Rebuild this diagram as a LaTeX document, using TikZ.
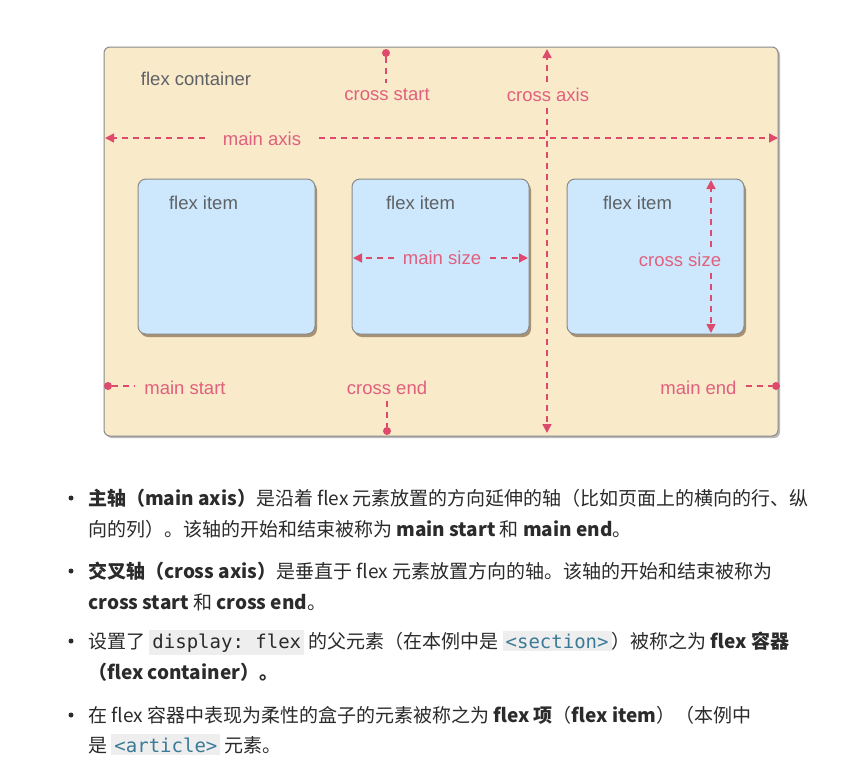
\documentclass[tikz,border=0pt]{standalone}
\usepackage{fontspec}
\setmainfont{Liberation Sans}
\newfontfamily\cjk{Noto Sans CJK SC}
\setmonofont{DejaVu Sans Mono}
\usetikzlibrary{arrows.meta,shadows}
\definecolor{pinkline}{HTML}{DE4A6C}
\definecolor{pinktext}{HTML}{E0607E}
\definecolor{contfill}{HTML}{F9EAC9}
\definecolor{itemfill}{HTML}{CDE8FC}
\definecolor{boxborder}{HTML}{8A8A8A}
\definecolor{labelgray}{HTML}{5E6166}
\definecolor{bodytext}{HTML}{2B2B2B}
\definecolor{codebg}{HTML}{EEEEEE}
\definecolor{codeblue}{HTML}{3B7A96}
\newcommand\codebox[2]{{\setlength\fboxsep{3pt}\colorbox{codebg}{\ttfamily\color{#1}#2}}}
\tikzset{
  container/.style={draw=boxborder, line width=1pt, fill=contfill, rounded corners=6pt,
    drop shadow={shadow xshift=2pt, shadow yshift=-2pt, opacity=0.45, fill=black!60}},
  itembox/.style={draw=boxborder, line width=1pt, fill=itemfill, rounded corners=8pt,
    drop shadow={shadow xshift=2pt, shadow yshift=-3pt, opacity=0.5, fill=black!55!brown}},
  graylabel/.style={text=labelgray, font=\fontsize{18.5}{20}\selectfont, inner sep=0pt},
  pinklabel/.style={text=pinktext, font=\fontsize{18.5}{20}\selectfont, inner xsep=9pt, inner ysep=6pt},
  dashline/.style={draw=pinkline, line width=1.6pt, dash pattern=on 6pt off 5pt},
  arr/.style={dashline, -{Triangle[width=9pt,length=9pt]}},
  dot/.style={circle, fill=pinkline, inner sep=0pt, minimum size=8pt},
  bodyline/.style={anchor=base west, inner sep=0pt, text=bodytext, font=\cjk\fontsize{19}{22}\selectfont},
  bulletdot/.style={circle, fill=bodytext, inner sep=0pt, minimum size=5pt}
}
\begin{document}
\begin{tikzpicture}[x=1pt,y=-1pt]
\useasboundingbox (0,0) rectangle (860,780);
\fill[white] (0,0) rectangle (860,780);

% container and items
\node[container, minimum width=674pt, minimum height=389pt] (cont) at (441,241.5) {};
\node[itembox, minimum width=177pt, minimum height=155pt] (item1) at (226.5,256.5) {};
\node[itembox, minimum width=177pt, minimum height=155pt] (item2) at (440.5,256.5) {};
\node[itembox, minimum width=177pt, minimum height=155pt] (item3) at (655.5,256.5) {};

\node[graylabel] (contlabel) at (196,79) {flex container};
\node[graylabel] (it1label) at (203.5,203) {flex item};
\node[graylabel] (it2label) at (420.5,203) {flex item};
\node[graylabel] (it3label) at (637.5,203) {flex item};

% cross start
\node[dot] (csdot) at (386,53) {};
\node[pinklabel] (cslabel) at (387,95) {cross start};
\draw[dashline] (csdot) -- (csdot |- cslabel.north);

% cross axis
\node[pinklabel] (calabel) at (548,95) {cross axis};
\coordinate (catop) at (547,49);
\coordinate (cabot) at (547,433);
\draw[arr] (calabel.north -| catop) -- (catop);
\draw[arr] (calabel.south -| cabot) -- (cabot);

% main axis
\node[pinklabel, inner xsep=18pt] (malabel) at (262,139) {main axis};
\coordinate (maleft) at (105,138);
\coordinate (maright) at (778,138);
\draw[arr] (malabel.west |- maleft) -- (maleft);
\draw[arr] (malabel.east |- maright) -- (maright);

% main size
\node[pinklabel] (mslabel) at (442,258) {main size};
\coordinate (msleft) at (353,258);
\coordinate (msright) at (528,258);
\draw[arr] (mslabel.west |- msleft) -- (msleft);
\draw[arr] (mslabel.east |- msright) -- (msright);

% cross size
\node[pinklabel, inner xsep=0pt] (czlabel) at (680,260) {cross size};
\coordinate (cztop) at (711,180);
\coordinate (czbot) at (711,333);
\draw[arr] (czlabel.north -| cztop) -- (cztop);
\draw[arr] (czlabel.south -| czbot) -- (czbot);

% main start
\node[dot] (msdot) at (108,386) {};
\node[pinklabel] (mstlabel) at (185,388) {main start};
\draw[dashline] (msdot) -- (mstlabel.west |- msdot);

% cross end
\node[pinklabel] (celabel) at (387,388) {cross end};
\node[dot] (cedot) at (387,431) {};
\draw[dashline] (celabel.south -| cedot) -- (cedot);

% main end
\node[pinklabel] (melabel) at (698.5,388) {main end};
\node[dot] (medot) at (776,386) {};
\draw[dashline] (melabel.east |- medot) -- (medot);

% bullet list
\node[bulletdot] (b1) at (71,498) {};
\node[bulletdot] (b2) at (71,571) {};
\node[bulletdot] (b3) at (71,641) {};
\node[bulletdot] (b4) at (71,715) {};

\node[bodyline] (l1a) at (88,505) {\textbf{主轴（main axis）}是沿着 flex 元素放置的方向延伸的轴（比如页面上的横向的行、纵};
\node[bodyline] (l1b) at (88,536) {向的列）。该轴的开始和结束被称为 \textbf{main start} 和 \textbf{main end}。};
\node[bodyline] (l2a) at (88,578) {\textbf{交叉轴（cross axis）}是垂直于 flex 元素放置方向的轴。该轴的开始和结束被称为};
\node[bodyline] (l2b) at (88,609) {\textbf{cross start} 和 \textbf{cross end}。};
\node[bodyline] (l3a) at (88,648) {设置了 \codebox{bodytext}{display: flex} 的父元素（在本例中是 \codebox{codeblue}{<section>}）被称之为 \textbf{flex 容器}};
\node[bodyline] (l3b) at (88,679) {\textbf{（flex container）。}};
\node[bodyline] (l4a) at (88,722) {在 flex 容器中表现为柔性的盒子的元素被称之为 \textbf{flex 项}（\textbf{flex item}）（本例中};
\node[bodyline] (l4b) at (88,752) {是 \codebox{codeblue}{<article>} 元素。};
\end{tikzpicture}
\end{document}
